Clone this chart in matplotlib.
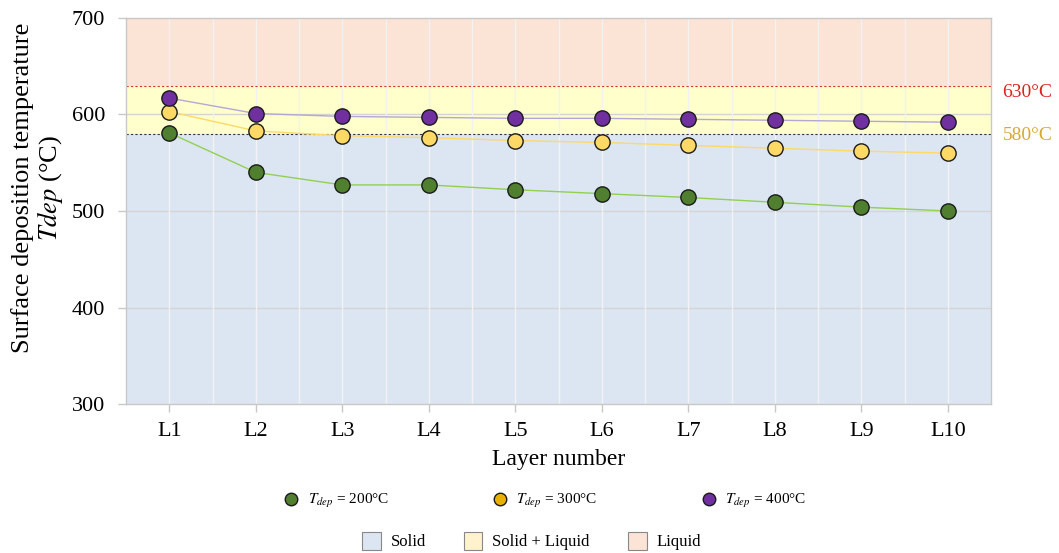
import matplotlib
matplotlib.use("Agg")
import matplotlib.pyplot as plt
from matplotlib.lines import Line2D
from matplotlib.patches import Patch

layers = ["L1", "L2", "L3", "L4", "L5", "L6", "L7", "L8", "L9", "L10"]
t200 = [581, 540, 527, 527, 522, 518, 514, 509, 504, 500]
t300 = [603, 583, 578, 576, 573, 571, 568, 565, 562, 560]
t400 = [617, 601, 598, 597, 596, 596, 595, 594, 593, 592]
solidus = 580
liquidus = 630

plt.rcParams["font.family"] = ["Liberation Serif", "DejaVu Serif"]
plt.rcParams["mathtext.fontset"] = "stix"

fig = plt.figure(figsize=(10.59, 5.53), dpi=100)
ax = fig.add_axes([0.119, 0.2694, 0.817, 0.6981])

x = range(len(layers))

# phase bands
ax.axhspan(300, solidus, color="#dce6f2", zorder=0.1, lw=0)
ax.axhspan(solidus, liquidus, color="#ffffcc", zorder=0.1, lw=0)
ax.axhspan(liquidus, 700, color="#fbe4d6", zorder=0.1, lw=0)
ax.axhline(liquidus, color="#e03030", ls=(0, (2, 2)), lw=0.8, zorder=0.6)
ax.axhline(solidus, color="#333333", ls=(0, (2, 2)), lw=0.8, zorder=0.6)

# grid: horizontal at 100 steps, vertical at every half layer
for yv in [400, 500, 600]:
    ax.axhline(yv, color="#d4d4d4", lw=1.0, zorder=0.5)
for xv in [i * 0.5 for i in range(0, 19)]:
    ax.axvline(xv, color="#f2f2f2", lw=1.0, zorder=0.5)

ax.plot(x, t200, "-", color="#92d050", lw=1.0, zorder=2)
ax.plot(x, t300, "-", color="#ffd966", lw=1.0, zorder=2)
ax.plot(x, t400, "-", color="#b4a7d6", lw=1.0, zorder=2)
ax.plot(x, t200, "o", ms=11, mfc="#4f7f2f", mec="#1a1a1a", mew=1.0, zorder=3)
ax.plot(x, t300, "o", ms=11, mfc="#ffd966", mec="#1a1a1a", mew=1.0, zorder=3)
ax.plot(x, t400, "o", ms=11, mfc="#7030a0", mec="#1a1a1a", mew=1.0, zorder=3)

ax.set_xlim(-0.5, len(layers) - 0.5)
ax.set_ylim(300, 700)
ax.set_yticks([300, 400, 500, 600, 700])
ax.set_xticks(list(x))
ax.set_xticklabels(layers)
ax.tick_params(axis="both", labelsize=16, color="#c8c8c8", length=6, width=1)
ax.tick_params(axis="y", pad=9)
ax.tick_params(axis="x", pad=7)
for s in ax.spines.values():
    s.set_color("#c8c8c8")
    s.set_linewidth(1.0)

ax.set_xlabel("Layer number", fontsize=17, labelpad=6)
ax.set_ylabel("Surface deposition temperature\n$\\mathit{Tdep}$ (°C)",
              fontsize=19, linespacing=1.05, va="center")
ax.yaxis.set_label_coords(-0.102, 0.56)

ax.text(1.013, liquidus - 7, f"{liquidus}°C", transform=ax.get_yaxis_transform(),
        color="#e02020", fontsize=14, va="center", ha="left")
ax.text(1.013, solidus - 2, f"{solidus}°C", transform=ax.get_yaxis_transform(),
        color="#d9a830", fontsize=14, va="center", ha="left")

series_handles = [
    Line2D([], [], ls="none", marker="o", ms=9, mfc="#4f7f2f", mec="#1a1a1a"),
    Line2D([], [], ls="none", marker="o", ms=9, mfc="#e8b000", mec="#1a1a1a"),
    Line2D([], [], ls="none", marker="o", ms=9, mfc="#7030a0", mec="#1a1a1a"),
]
series_labels = ["$T_{dep}$ = 200°C", "$T_{dep}$ = 300°C", "$T_{dep}$ = 400°C"]
fig.legend(series_handles, series_labels, loc="center", ncol=3,
           bbox_to_anchor=(0.511, 0.094), frameon=False, fontsize=11,
           columnspacing=6.3, handletextpad=0.05)

phase_handles = [
    Patch(facecolor="#dce6f2", edgecolor="#888888", lw=0.8),
    Patch(facecolor="#fff2cc", edgecolor="#888888", lw=0.8),
    Patch(facecolor="#fbe4d6", edgecolor="#888888", lw=0.8),
]
fig.legend(phase_handles, ["Solid", "Solid + Liquid", "Liquid"], loc="center", ncol=3,
           bbox_to_anchor=(0.502, 0.022), frameon=False, fontsize=12,
           columnspacing=2.3, handletextpad=0.6, handlelength=1.1, handleheight=1.3)

fig.savefig("out.png", dpi=100)
